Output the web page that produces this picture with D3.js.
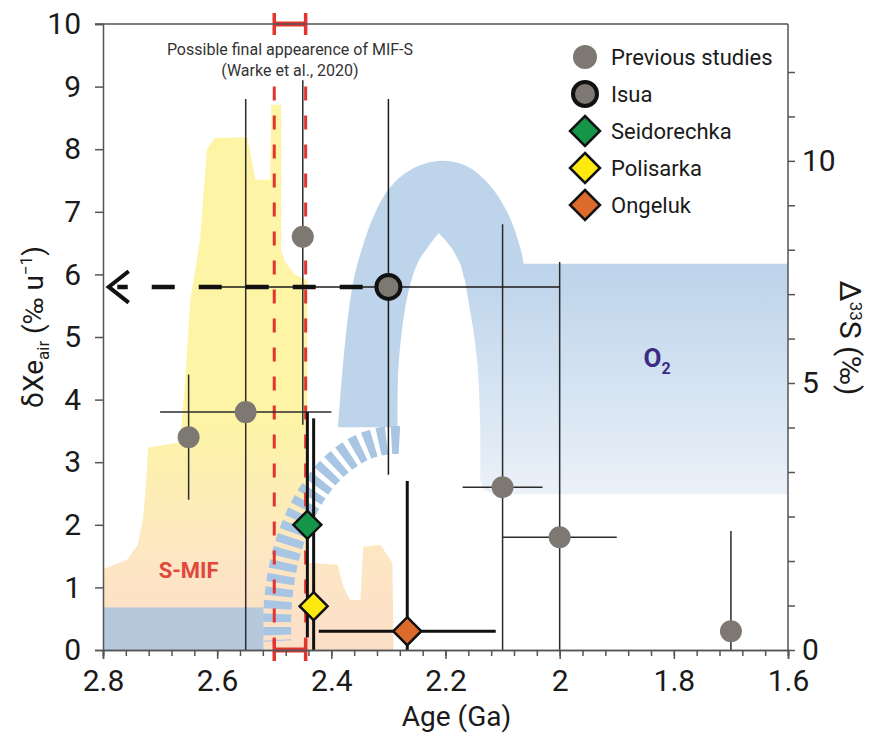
<!DOCTYPE html>
<html>
<head>
<meta charset="utf-8">
<script src="https://cdn.jsdelivr.net/npm/d3@7"></script>
<style>
  body { margin: 0; background: #fff; }
  svg { display: block; font-family: Roboto, "Open Sans", sans-serif; }
</style>
</head>
<body>
<div id="chart"></div>
<script>
// previous studies (age in Ga, dXe in permil/u, errors)
const prevAge = [2.65, 2.55, 2.45, 2.1, 2.0, 1.7];
const prevVal = [3.4, 3.8, 6.6, 2.6, 1.8, 0.3];
const prevAgeErr = [0, 0.15, 0, 0.07, 0.1, 0];
const prevValLo = [1.0, 5.0, 3.0, 4.2, 4.4, 1.6];
const prevValHi = [1.0, 5.0, 2.5, 4.2, 4.4, 1.6];

// this study
const sampleNames = ["Isua", "Seidorechka", "Polisarka", "Ongeluk"];
const sampleAge = [2.3, 2.442, 2.431, 2.267];
const sampleVal = [5.8, 2.0, 0.7, 0.3];
const sampleAgeErr = [0.3, 0, 0, 0.155];
const sampleValLo = [3.0, 1.8, 3.0, 2.4];
const sampleValHi = [3.0, 1.8, 3.0, 2.4];
const sampleColors = ["#7e7873", "#149548", "#fde910", "#dc6a2c"];

const legendNames = ["Previous studies", "Isua", "Seidorechka", "Polisarka", "Ongeluk"];

// axes
const xMajor = [2.8, 2.6, 2.4, 2.2, 2.0, 1.8, 1.6];
const yTicks = [0, 1, 2, 3, 4, 5, 6, 7, 8, 9, 10];
const rightLabels = [0, 5, 10];

// S-MIF record outline (age, D33S drawn on left scale)
const smifAge = [2.80, 2.80, 2.758, 2.739, 2.730, 2.723, 2.721, 2.665, 2.656, 2.647, 2.630, 2.618,
  2.605, 2.547, 2.533, 2.507, 2.505, 2.488, 2.488, 2.481, 2.463, 2.442, 2.442, 2.432, 2.389,
  2.379, 2.367, 2.349, 2.344, 2.314, 2.293, 2.291];
const smifVal = [0, 1.29, 1.44, 1.68, 2.08, 2.88, 3.23, 3.32, 4.31, 5.59, 6.55, 7.99,
  8.18, 8.19, 7.51, 7.51, 8.71, 8.71, 6.39, 6.20, 5.99, 5.91, 1.39, 1.39, 1.36,
  1.01, 0.80, 0.80, 1.65, 1.68, 1.39, 0];
const smifBlue = [2.8, 2.519, 0, 0.68]; // age0, age1, v0, v1

// O2 arch + band
const archOuter = [[2.388, 3.56], [2.376, 4.9], [2.361, 5.91], [2.345, 6.45], [2.325, 6.95],
  [2.298, 7.38], [2.261, 7.67], [2.214, 7.81], [2.168, 7.75], [2.126, 7.46], [2.091, 6.98],
  [2.068, 6.39], [2.063, 6.17]];
const archInnerRight = [[2.168, 5.95], [2.172, 6.12], [2.191, 6.44], [2.212, 6.66]];
const archInnerLeft = [[2.212, 6.66], [2.232, 6.42], [2.249, 6.18], [2.267, 5.64], [2.282, 4.58], [2.284, 3.56]];
const o2Band = [[2.063, 6.17], [1.6, 6.17], [1.6, 2.49], [2.115, 2.49], [2.133, 2.56], [2.139, 2.72],
  [2.139, 3.51], [2.141, 4.1], [2.144, 4.58], [2.151, 5.1], [2.161, 5.64], [2.166, 5.9], [2.172, 6.12]];
// dashed ribbon (ellipse arc): centre age, centre value, radius in Ga, radius in value
const ribbon = { age: 2.288, val: 0.4, rAge: 0.207, rVal: 2.955 };

// final MIF-S window
const mifAge = [2.5, 2.445];
// Isua arrow
const arrowFrom = 2.345, arrowTo = 2.775, arrowTip = 2.79, arrowArm = 2.755;

const width = 870, height = 735;
const margin = { top: 24, right: 82, bottom: 85, left: 103 };

const svg = d3.select("#chart").append("svg")
  .attr("width", width).attr("height", height);
svg.append("rect").attr("width", width).attr("height", height).attr("fill", "#fff");

const x = d3.scaleLinear().domain([2.8, 1.6]).range([margin.left, width - margin.right]);
const y = d3.scaleLinear().domain([0, 10]).range([height - margin.bottom, margin.top]);
const yR = d3.scaleLinear().domain([0, 5, 12]).range([height - margin.bottom, 383, 72]);

const defs = svg.append("defs");
const g1 = defs.append("linearGradient").attr("id", "smifGrad")
  .attr("gradientUnits", "userSpaceOnUse").attr("x1", 0).attr("x2", 0)
  .attr("y1", y(3.6)).attr("y2", y(0));
g1.append("stop").attr("offset", 0).attr("stop-color", "#fdf4a6");
g1.append("stop").attr("offset", 0.6).attr("stop-color", "#fde6c4");
g1.append("stop").attr("offset", 1).attr("stop-color", "#fcdfc8");

const g2 = defs.append("linearGradient").attr("id", "bandGrad")
  .attr("gradientUnits", "userSpaceOnUse").attr("x1", 0).attr("x2", 0)
  .attr("y1", y(6.17)).attr("y2", y(2.49));
g2.append("stop").attr("offset", 0).attr("stop-color", "#bcd3ea");
g2.append("stop").attr("offset", 1).attr("stop-color", "#ebf1f9");

// S-MIF area
const smifPts = smifAge.map((a, i) => [a, smifVal[i]]);
svg.append("path")
  .attr("d", d3.line().x(d => x(d[0])).y(d => y(d[1])).curve(d3.curveLinearClosed)(smifPts))
  .attr("fill", "url(#smifGrad)");
svg.append("rect")
  .attr("x", x(smifBlue[0])).attr("y", y(smifBlue[3]))
  .attr("width", x(smifBlue[1]) - x(smifBlue[0]))
  .attr("height", y(smifBlue[2]) - y(smifBlue[3]))
  .attr("fill", "#b6c8db");

// O2 band and arch
svg.append("path")
  .attr("d", d3.line().x(d => x(d[0])).y(d => y(d[1])).curve(d3.curveLinearClosed)(o2Band))
  .attr("fill", "url(#bandGrad)");

const cr = d3.line().x(d => x(d[0])).y(d => y(d[1])).curve(d3.curveCatmullRom);
const archD = cr(archOuter)
  + cr(archInnerRight).replace(/^M/, "L")
  + cr(archInnerLeft).replace(/^M/, "L") + "Z";
svg.append("path").attr("d", archD).attr("fill", "#bdd4eb");

// dashed ribbon
{
  const cx = x(ribbon.age), cy = y(ribbon.val);
  const rx = Math.abs(x(ribbon.age + ribbon.rAge) - cx);
  const ry = Math.abs(y(ribbon.val + ribbon.rVal) - cy);
  const t0 = -88 * Math.PI / 180, t1 = -185 * Math.PI / 180;
  const p0 = [cx + rx * Math.cos(t0), cy + ry * Math.sin(t0)];
  const p1 = [cx + rx * Math.cos(t1), cy + ry * Math.sin(t1)];
  svg.append("path")
    .attr("d", `M${p0[0]},${p0[1]} A${rx},${ry} 0 0 0 ${p1[0]},${p1[1]}`)
    .attr("fill", "none").attr("stroke", "#a8c5e3")
    .attr("stroke-width", 28).attr("stroke-dasharray", "8 5");
}

// red dashed lines + brackets
const red = "#e2352f";
mifAge.forEach(a => {
  svg.append("line")
    .attr("x1", x(a)).attr("x2", x(a)).attr("y1", y(9.0)).attr("y2", y(0.1))
    .attr("stroke", red).attr("stroke-width", 3).attr("stroke-dasharray", "14 15");
});
[10, 0].forEach(v => {
  const g = svg.append("g").attr("stroke", red);
  g.append("line").attr("x1", x(mifAge[0])).attr("x2", x(mifAge[1]))
    .attr("y1", y(v)).attr("y2", y(v)).attr("stroke-width", 5);
  mifAge.forEach(a => g.append("line").attr("x1", x(a)).attr("x2", x(a))
    .attr("y1", y(v) - 11).attr("y2", y(v) + 11).attr("stroke-width", 3.5));
});

// labels inside plot
svg.append("text").attr("x", x((mifAge[0] + mifAge[1]) / 2)).attr("y", 55)
  .attr("text-anchor", "middle").attr("font-size", 16).attr("fill", "#333")
  .text("Possible final appearence of MIF-S");
svg.append("text").attr("x", x((mifAge[0] + mifAge[1]) / 2)).attr("y", 76)
  .attr("text-anchor", "middle").attr("font-size", 16).attr("fill", "#333")
  .text("(Warke et al., 2020)");
svg.append("text").attr("x", x(2.65)).attr("y", y(1.15))
  .attr("text-anchor", "middle").attr("font-size", 22).attr("font-weight", "bold")
  .attr("fill", "#e2473c").text("S-MIF");
const o2 = svg.append("text").attr("x", x(1.853)).attr("y", y(4.52))
  .attr("font-size", 26).attr("font-weight", "bold").attr("fill", "#3a2c84");
o2.append("tspan").text("O");
o2.append("tspan").attr("font-size", 16).attr("dy", 7).text("2");

// error bars
function errBars(age, val, ae, lo, hi, w, col) {
  age.forEach((a, i) => {
    const v = val[i];
    svg.append("line").attr("x1", x(a)).attr("x2", x(a))
      .attr("y1", y(Math.max(0, v - lo[i]))).attr("y2", y(Math.min(10, v + hi[i])))
      .attr("stroke", col).attr("stroke-width", w);
    if (ae[i] > 0) {
      svg.append("line").attr("x1", x(a + ae[i])).attr("x2", x(a - ae[i]))
        .attr("y1", y(v)).attr("y2", y(v))
        .attr("stroke", col).attr("stroke-width", w);
    }
  });
}
errBars(prevAge, prevVal, prevAgeErr, prevValLo, prevValHi, 1.5, "#2b2b2b");
errBars(sampleAge.slice(0, 1), sampleVal.slice(0, 1), sampleAgeErr.slice(0, 1),
  sampleValLo.slice(0, 1), sampleValHi.slice(0, 1), 1.5, "#1a1a1a");
errBars(sampleAge.slice(1), sampleVal.slice(1), sampleAgeErr.slice(1),
  sampleValLo.slice(1), sampleValHi.slice(1), 3, "#111");

// dashed arrow from Isua
svg.append("line")
  .attr("x1", x(arrowFrom)).attr("x2", x(arrowTo))
  .attr("y1", y(sampleVal[0])).attr("y2", y(sampleVal[0]))
  .attr("stroke", "#111").attr("stroke-width", 4.5).attr("stroke-dasharray", "23 24");
svg.append("polyline")
  .attr("points", [[x(arrowArm), y(sampleVal[0] + 0.25)], [x(arrowTip), y(sampleVal[0])],
    [x(arrowArm), y(sampleVal[0] - 0.25)]].join(" "))
  .attr("fill", "none").attr("stroke", "#111").attr("stroke-width", 4);

// markers
const diamond = r => `M0,${-r}L${r},0L0,${r}L${-r},0Z`;
svg.selectAll("circle.prev").data(prevAge).join("circle").attr("class", "prev")
  .attr("cx", d => x(d)).attr("cy", (d, i) => y(prevVal[i])).attr("r", 11)
  .attr("fill", "#7e7873");
svg.append("circle").attr("cx", x(sampleAge[0])).attr("cy", y(sampleVal[0])).attr("r", 12)
  .attr("fill", sampleColors[0]).attr("stroke", "#111").attr("stroke-width", 4);
sampleAge.slice(1).forEach((a, i) => {
  svg.append("path").attr("d", diamond(14))
    .attr("transform", `translate(${x(a)},${y(sampleVal[i + 1])})`)
    .attr("fill", sampleColors[i + 1]).attr("stroke", "#111").attr("stroke-width", 2.5);
});

// axes
const axisCol = "#555";
function styleAxis(g, fs) {
  g.selectAll("path.domain").attr("stroke", axisCol).attr("stroke-width", 1.5);
  g.selectAll(".tick line").attr("stroke", axisCol).attr("stroke-width", 1.5);
  g.selectAll(".tick text").attr("font-size", fs).attr("fill", "#1a1a1a")
    .attr("font-family", "Roboto, sans-serif");
}
const xMinor = d3.range(0, 31).map(i => 2.8 - i * 0.04);
const gxm = svg.append("g").attr("transform", `translate(0,${y(0)})`)
  .call(d3.axisBottom(x).tickValues(xMinor).tickSize(6).tickFormat(""));
styleAxis(gxm, 30);
const gx = svg.append("g").attr("transform", `translate(0,${y(0)})`)
  .call(d3.axisBottom(x).tickValues(xMajor).tickSize(9).tickPadding(11).tickFormat(d3.format("~g")));
styleAxis(gx, 30);

const gy = svg.append("g").attr("transform", `translate(${x(2.8)},0)`)
  .call(d3.axisLeft(y).tickValues(yTicks).tickSize(8).tickPadding(14));
styleAxis(gy, 30);

const rightTicks = d3.range(0, 6).map(i => i * 5 / 6).concat(d3.range(5, 13));
const gr = svg.append("g").attr("transform", `translate(${x(1.6)},0)`)
  .call(d3.axisRight(yR).tickValues(rightTicks).tickSize(7).tickPadding(7)
    .tickFormat(d => rightLabels.includes(d) ? d : ""));
gr.select("path.domain").remove();
styleAxis(gr, 30);

// frame top + right
svg.append("line").attr("x1", x(2.8) - 8).attr("x2", x(1.6)).attr("y1", y(10)).attr("y2", y(10))
  .attr("stroke", axisCol).attr("stroke-width", 1.5);
svg.append("line").attr("x1", x(1.6)).attr("x2", x(1.6)).attr("y1", y(10)).attr("y2", y(0))
  .attr("stroke", axisCol).attr("stroke-width", 1.5);

// axis titles
svg.append("text").attr("x", (x(2.8) + x(1.6)) / 2 + 11).attr("y", 726)
  .attr("text-anchor", "middle").attr("font-size", 28).attr("fill", "#1a1a1a")
  .text("Age (Ga)");

const yl = svg.append("text").attr("transform", "translate(43,327) rotate(-90)")
  .attr("text-anchor", "middle").attr("font-size", 28).attr("fill", "#1a1a1a");
yl.append("tspan").text("δXe");
yl.append("tspan").attr("font-size", 17).attr("dy", 6).text("air");
yl.append("tspan").attr("dy", -6).text(" (‰ u");
yl.append("tspan").attr("font-size", 17).attr("dy", -11).text("−1");
yl.append("tspan").attr("dy", 11).text(")");

const yr = svg.append("text").attr("transform", "translate(840,338) rotate(90)")
  .attr("text-anchor", "middle").attr("font-size", 30).attr("fill", "#1a1a1a");
yr.append("tspan").text("Δ");
yr.append("tspan").attr("font-size", 17).attr("dy", -10).text("33");
yr.append("tspan").attr("dy", 10).text("S (‰)");

// legend
const lx = 585, ly = [57, 94, 131, 168, 205];
const lg = svg.append("g");
lg.append("circle").attr("cx", lx).attr("cy", ly[0]).attr("r", 12).attr("fill", "#7e7873");
lg.append("circle").attr("cx", lx).attr("cy", ly[1]).attr("r", 12)
  .attr("fill", sampleColors[0]).attr("stroke", "#111").attr("stroke-width", 4);
[1, 2, 3].forEach(i => {
  lg.append("path").attr("d", diamond(15))
    .attr("transform", `translate(${lx},${ly[i + 1]})`)
    .attr("fill", sampleColors[i]).attr("stroke", "#111").attr("stroke-width", 2.5);
});
legendNames.forEach((n, i) => {
  lg.append("text").attr("x", 611).attr("y", ly[i] + 8)
    .attr("font-size", 22).attr("fill", "#1a1a1a").text(n);
});
</script>
</body>
</html>
